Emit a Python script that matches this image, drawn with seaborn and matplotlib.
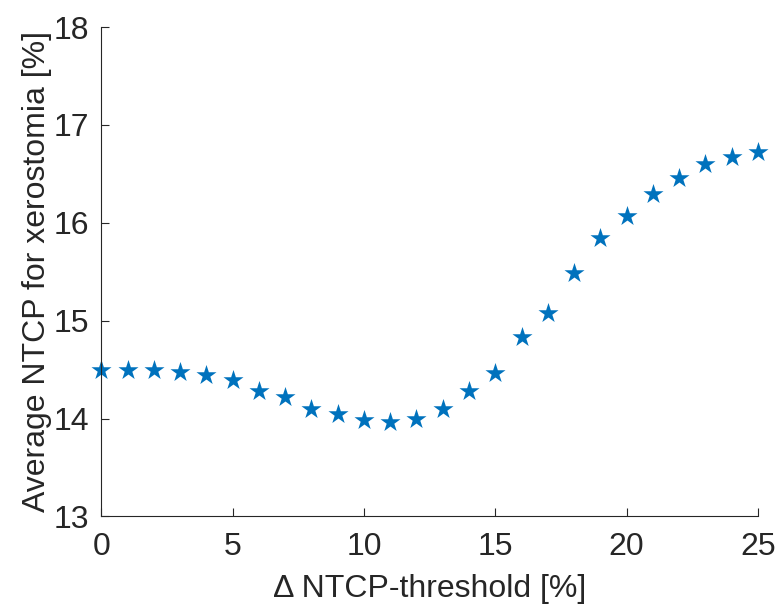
import matplotlib
matplotlib.use("Agg")
import matplotlib.pyplot as plt
import seaborn as sns
import pandas as pd

threshold = list(range(0, 26))
avg_ntcp = [14.50, 14.50, 14.50, 14.48, 14.44, 14.39, 14.28, 14.22, 14.10, 14.05,
            13.98, 13.96, 14.00, 14.10, 14.28, 14.46, 14.83, 15.08, 15.49, 15.84,
            16.07, 16.29, 16.46, 16.60, 16.67, 16.72]
xticks = [0, 5, 10, 15, 20, 25]
yticks = [13, 14, 15, 16, 17, 18]

sns.set_style("white")
plt.rcParams['font.family'] = ['Liberation Sans', 'DejaVu Sans']

df = pd.DataFrame({"x": threshold, "y": avg_ntcp})

fig = plt.figure(figsize=(7.79, 6.14), dpi=100)
ax = fig.add_axes([0.130, 0.159, 0.843, 0.797])
sns.scatterplot(data=df, x="x", y="y", marker="*", s=230, color="#0072BD",
                linewidth=0, ax=ax, legend=False, clip_on=False)

ax.set_xlim(0, 25)
ax.set_ylim(13, 18)
ax.set_xticks(xticks)
ax.set_yticks(yticks)
ax.tick_params(direction="in", length=6, width=0.8, labelsize=23,
               colors="#262626", left=True, bottom=True)
ax.tick_params(axis="x", pad=11)
ax.tick_params(axis="y", pad=9)
for s in ["top", "right"]:
    ax.spines[s].set_visible(False)
for s in ["left", "bottom"]:
    ax.spines[s].set_color("#262626")
    ax.spines[s].set_linewidth(0.8)
ax.set_xlabel("Δ NTCP-threshold [%]", fontsize=23, color="#262626", labelpad=9)
ax.set_ylabel("Average NTCP for xerostomia [%]", fontsize=23, color="#262626", labelpad=1)

fig.savefig("out.png", dpi=100)
